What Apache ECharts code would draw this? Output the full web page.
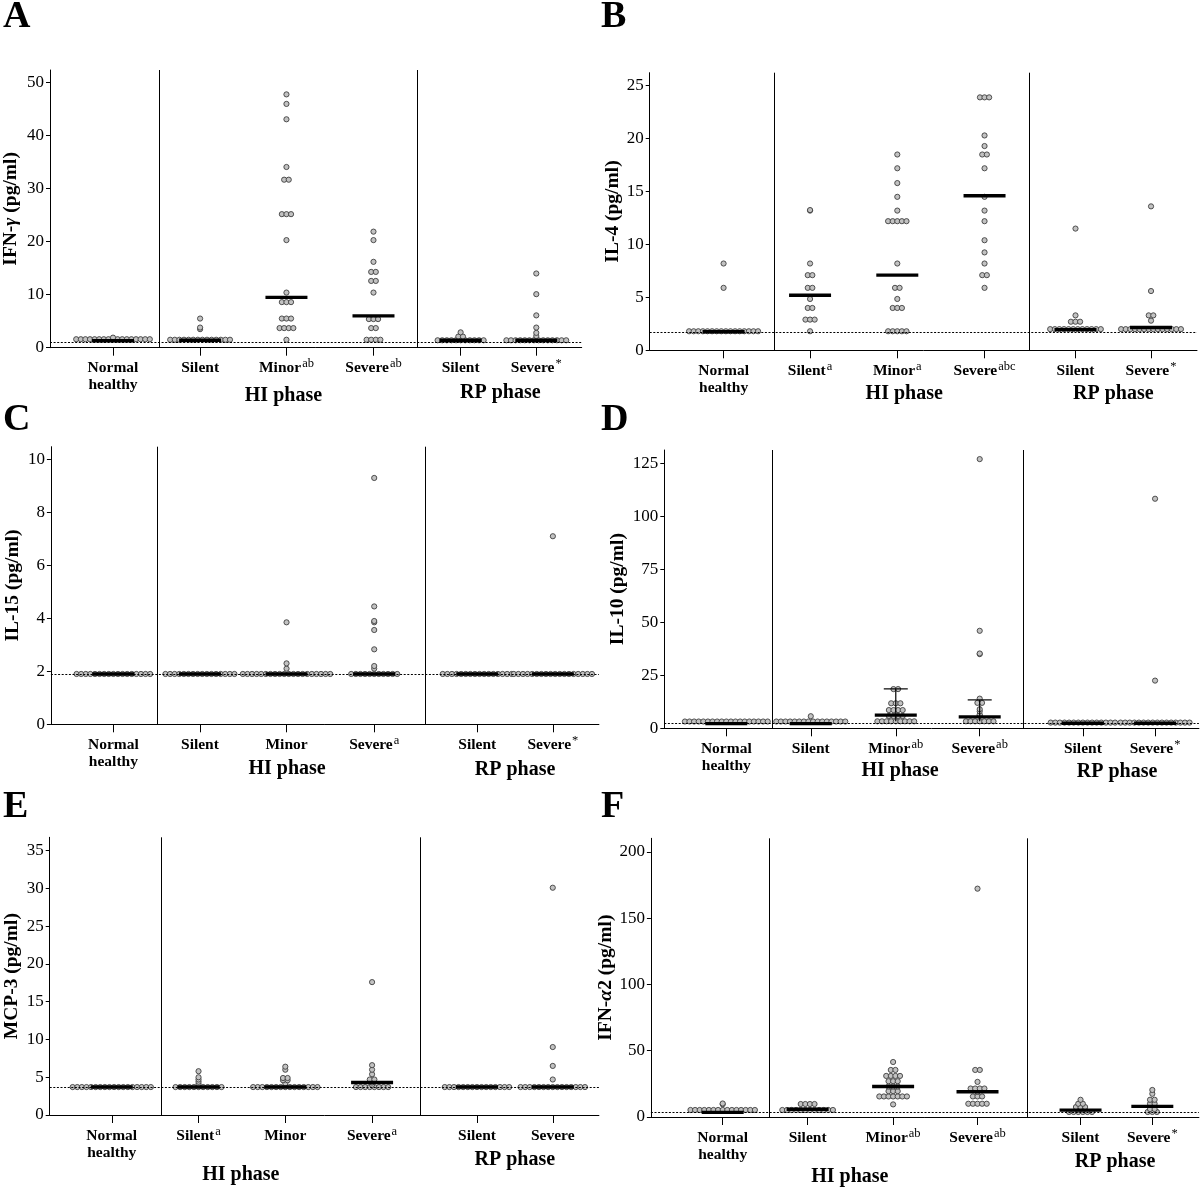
<!DOCTYPE html>
<html>
<head>
<meta charset="utf-8">
<script src="https://cdn.jsdelivr.net/npm/echarts@6/dist/echarts.min.js"></script>
<style>
html,body{margin:0;padding:0;background:#fff;}
#chart{width:1200px;height:1189px;}
</style>
</head>
<body>
<div id="chart"></div>
<script>
// ---------------- DATA ----------------
// Each group: list of [value (pg/ml), number of dots drawn at that value]
// group order: Normal healthy | HI Silent | HI Minor | HI Severe | RP Silent | RP Severe

const ifnGamma = [
  [[1.6, 17], [1.9, 1]],
  [[1.5, 14], [3.5, 1], [3.8, 1], [5.5, 1]],
  [[1.5, 1], [3.7, 4], [5.5, 3], [8.6, 3], [10.4, 1], [20.3, 1], [25.2, 3], [31.7, 2], [34.1, 1], [43.1, 1], [46.0, 1], [47.8, 1]],
  [[1.5, 4], [3.7, 2], [5.4, 3], [10.4, 1], [12.6, 2], [14.3, 2], [16.2, 1], [20.3, 1], [21.9, 1]],
  [[1.4, 11], [2.1, 2], [2.9, 1]],
  [[1.4, 14], [2.2, 1], [2.8, 1], [3.8, 1], [6.1, 1], [10.1, 1], [14.0, 1]]
];
const ifnGammaMedian = [1.3, 1.4, 9.5, 6.0, 1.4, 1.4];

const il4 = [
  [[1.8, 16], [5.9, 1], [8.2, 1]],
  [[1.8, 1], [2.9, 3], [4.0, 2], [4.85, 1], [5.9, 2], [7.1, 2], [8.2, 1], [13.2, 1], [13.25, 1]],
  [[1.8, 5], [4.0, 3], [4.85, 1], [5.9, 2], [8.2, 1], [12.2, 5], [13.2, 1], [14.5, 1], [15.8, 1], [17.2, 1], [18.5, 1]],
  [[5.9, 1], [7.1, 2], [8.2, 1], [9.25, 1], [10.4, 1], [12.2, 1], [13.2, 1], [14.5, 1], [17.2, 1], [18.5, 2], [19.3, 1], [20.3, 1], [23.9, 3]],
  [[2.0, 12], [2.7, 3], [3.3, 1], [11.5, 1]],
  [[2.0, 14], [2.8, 1], [3.3, 2], [5.6, 1], [13.6, 1]]
];
const il4Median = [1.75, 5.2, 7.1, 14.6, 1.95, 2.15];

const il15 = [
  [[1.9, 17]],
  [[1.9, 16]],
  [[1.9, 20], [2.1, 1], [2.3, 1], [3.85, 1]],
  [[1.9, 11], [2.1, 1], [2.2, 1], [2.83, 1], [3.56, 1], [3.85, 1], [3.9, 1], [4.45, 1], [9.3, 1]],
  [[1.9, 16]],
  [[1.9, 18], [7.1, 1]]
];
const il15Median = [1.9, 1.9, 1.9, 1.9, 1.9, 1.9];

const il10 = [
  [[3.2, 19]],
  [[3.2, 16], [5.7, 1]],
  [[3.3, 9], [5.8, 4], [8.6, 4], [11.8, 3], [18.5, 2]],
  [[3.3, 7], [6.0, 1], [6.5, 1], [8.0, 1], [9.0, 1], [12.0, 2], [14.0, 1], [35.0, 1], [35.3, 1], [46.0, 1], [127.0, 1]],
  [[2.7, 15]],
  [[2.7, 16], [22.5, 1], [108.3, 1]]
];
const il10Median = [2.2, 2.2, 6.2, 5.4, 2.4, 2.4];
// spread bars (low, high) drawn for HI Minor and HI Severe
const il10Spread = [null, null, [3.3, 18.6], [3.3, 13.4], null, null];

const mcp3 = [
  [[3.7, 18]],
  [[3.7, 11], [4.1, 1], [4.4, 1], [4.7, 1], [5.0, 1], [5.8, 1]],
  [[3.7, 15], [4.2, 1], [4.6, 2], [4.9, 2], [6.0, 1], [6.4, 1]],
  [[3.7, 8], [4.0, 1], [4.3, 1], [4.7, 2], [5.4, 1], [6.0, 1], [6.6, 1], [17.6, 1]],
  [[3.7, 15]],
  [[3.7, 15], [4.7, 1], [6.5, 1], [9.0, 1], [30.1, 1]]
];
const mcp3Median = [3.7, 3.7, 3.7, 4.3, 3.7, 3.7];

const ifnAlpha2 = [
  [[5.3, 15], [9.6, 1], [10.2, 1]],
  [[5.3, 12], [9.8, 4]],
  [[9.5, 1], [15.5, 7], [19.5, 3], [23.0, 3], [27.0, 3], [31.0, 4], [35.5, 2], [41.5, 1]],
  [[10.0, 5], [15.5, 3], [19.0, 1], [21.5, 4], [26.5, 1], [35.5, 2], [172.3, 1]],
  [[3.8, 6], [5.5, 2], [7.5, 3], [10.0, 2], [13.0, 1]],
  [[3.8, 3], [6.0, 2], [10.0, 2], [13.0, 2], [17.5, 1], [20.4, 1]]
];
const ifnAlpha2Median = [3.5, 5.8, 23.0, 19.0, 5.2, 8.0];

// dotted reference (detection-limit) lines, one per panel A..F
const detectionLimits = [1.05, 1.7, 1.9, 2.3, 3.7, 3.5];

// tick labels
const yTicksA = [0, 10, 20, 30, 40, 50];
const yTicksB = [0, 5, 10, 15, 20, 25];
const yTicksC = [0, 2, 4, 6, 8, 10];
const yTicksD = [0, 25, 50, 75, 100, 125];
const yTicksE = [0, 5, 10, 15, 20, 25, 30, 35];
const yTicksF = [0, 50, 100, 150, 200];

// category labels (^ marks superscript)
const catA = ['Normal\nhealthy', 'Silent', 'Minor^ab', 'Severe^ab', 'Silent', 'Severe^*'];
const catB = ['Normal\nhealthy', 'Silent^a', 'Minor^a', 'Severe^abc', 'Silent', 'Severe^*'];
const catC = ['Normal\nhealthy', 'Silent', 'Minor', 'Severe^a', 'Silent', 'Severe^*'];
const catD = ['Normal\nhealthy', 'Silent', 'Minor^ab', 'Severe^ab', 'Silent', 'Severe^*'];
const catE = ['Normal\nhealthy', 'Silent^a', 'Minor', 'Severe^a', 'Silent', 'Severe'];
const catF = ['Normal\nhealthy', 'Silent', 'Minor^ab', 'Severe^ab', 'Silent', 'Severe^*'];
const phaseLabels = ['HI phase', 'RP phase'];
const panelLetters = ['A', 'B', 'C', 'D', 'E', 'F'];
const yTitles = ['IFN-{g|γ} (pg/ml)', 'IL-4 (pg/ml)', 'IL-15 (pg/ml)', 'IL-10 (pg/ml)', 'MCP-3 (pg/ml)', 'IFN-{g|α}2 (pg/ml)'];

// ---------------- LAYOUT ----------------
const layout = [
  {left: 49,    top: 70,    width: 532.7, height: 277.7, yMax: 52.4,  xPos: [11.85, 28.23, 44.47, 60.84, 77.23, 91.46], seps: [20.48, 69.1], nameGap: 29, hiX: 43.9, hiDy: 48, rpDy: 45, letter: [3, 20]},
  {left: 649.7, top: 72.7,  width: 547.3, height: 277.6, yMax: 26.23, xPos: [13.5, 29.3, 45.24, 61.18, 77.8, 91.6],   seps: [22.7, 69.4],  nameGap: 16, hiX: 46.5, hiDy: 44, rpDy: 44, letter: [601, 20]},
  {left: 50.9,  top: 446.7, width: 548,   height: 277.6, yMax: 10.48, xPos: [11.4, 27.2, 43.0, 59.0, 77.8, 91.6],    seps: [19.4, 68.4],  nameGap: 28, hiX: 43.1, hiDy: 45, rpDy: 46, letter: [3, 423]},
  {left: 664.3, top: 450,   width: 534.6, height: 278.3, yMax: 131.3, xPos: [11.6, 27.4, 43.3, 59.0, 78.3, 91.8],    seps: [20.2, 67.1],  nameGap: 36, hiX: 44.1, hiDy: 43, rpDy: 44, letter: [601, 423]},
  {left: 49.7,  top: 837.3, width: 549.2, height: 277.7, yMax: 36.78, xPos: [11.3, 27.1, 42.9, 58.7, 77.8, 91.6],    seps: [20.4, 67.4],  nameGap: 28, hiX: 34.8, hiDy: 60, rpDy: 45, letter: [3, 810]},
  {left: 650.9, top: 838.3, width: 548,   height: 278.7, yMax: 210.3, xPos: [13.1, 28.6, 44.2, 59.6, 78.4, 91.5],    seps: [21.6, 68.6],  nameGap: 27, hiX: 36.3, hiDy: 60, rpDy: 45, letter: [601, 810]}
];
const rpX = 84.7;
const DOT_STEP = 4.6;

const panels = [
  {data: ifnGamma,  median: ifnGammaMedian,  ticks: yTicksA, cats: catA},
  {data: il4,       median: il4Median,       ticks: yTicksB, cats: catB},
  {data: il15,      median: il15Median,      ticks: yTicksC, cats: catC},
  {data: il10,      median: il10Median,      ticks: yTicksD, cats: catD, spread: il10Spread},
  {data: mcp3,      median: mcp3Median,      ticks: yTicksE, cats: catE},
  {data: ifnAlpha2, median: ifnAlpha2Median, ticks: yTicksF, cats: catF}
];

const FONT = '"Liberation Serif", "Times New Roman", serif';

function catRich(label) {
  return label.split('\n').map(line => {
    const parts = line.split('^');
    return '{n|' + parts[0] + '}' + (parts[1] ? '{s|' + parts[1] + '}' : '');
  }).join('\n');
}

const option = {
  animation: false,
  backgroundColor: '#fff',
  grid: [], xAxis: [], yAxis: [], series: [], graphic: []
};

panels.forEach((p, i) => {
  const L = layout[i];
  option.grid.push({left: L.left, top: L.top, width: L.width, height: L.height});
  option.xAxis.push({
    type: 'value', gridIndex: i, min: 0, max: 100,
    axisLine: {show: true, onZero: false, lineStyle: {color: '#000', width: 1}},
    axisTick: {show: true, customValues: L.xPos, length: 8, lineStyle: {color: '#000', width: 1}},
    axisLabel: {
      customValues: L.xPos, margin: 12, interval: 0,
      formatter: v => {
        let k = 0, best = 1e9;
        L.xPos.forEach((x, j) => { if (Math.abs(x - v) < best) { best = Math.abs(x - v); k = j; } });
        return catRich(p.cats[k]);
      },
      rich: {
        n: {fontFamily: FONT, fontWeight: 'bold', fontSize: 15.5, lineHeight: 17, color: '#000'},
        s: {fontFamily: FONT, fontWeight: 'normal', fontSize: 12.5, lineHeight: 17, color: '#000', padding: [0, 0, 8, 1]}
      }
    },
    splitLine: {show: false}
  });
  option.yAxis.push({
    type: 'value', gridIndex: i, min: 0, max: L.yMax,
    axisLine: {show: true, onZero: false, lineStyle: {color: '#000', width: 1}},
    axisTick: {show: true, customValues: p.ticks, length: 4, lineStyle: {color: '#000', width: 1}},
    axisLabel: {customValues: p.ticks, fontFamily: FONT, fontSize: 17, color: '#000', margin: 6},
    splitLine: {show: false},
    name: yTitles[i], nameLocation: 'middle', nameGap: L.nameGap,
    nameTextStyle: {
      fontFamily: FONT, fontWeight: 'bold', fontSize: 19.5, color: '#000',
      rich: {g: {fontFamily: FONT, fontWeight: 'bold', fontStyle: 'italic', fontSize: 19.5, color: '#000'}}
    }
  });

  // dots, stacked side by side at equal values
  const dots = [];
  p.data.forEach((group, k) => {
    group.forEach(([v, n]) => {
      for (let j = 0; j < n; j++) {
        dots.push({value: [L.xPos[k], v], symbolOffset: [(j - (n - 1) / 2) * DOT_STEP, 0]});
      }
    });
  });
  option.series.push({
    type: 'scatter', xAxisIndex: i, yAxisIndex: i, silent: true, z: 3,
    symbol: 'circle', symbolSize: 5.2,
    itemStyle: {color: '#c2c2c2', borderColor: '#3e3e3e', borderWidth: 0.9, opacity: 1},
    data: dots
  });

  // median bars + reference lines
  option.series.push({
    type: 'scatter', xAxisIndex: i, yAxisIndex: i, silent: true, z: 5,
    symbol: 'rect', symbolSize: [42, 3.4],
    itemStyle: {color: '#000', opacity: 1},
    data: p.median.map((m, k) => [L.xPos[k], m]),
    markLine: {
      silent: true, symbol: 'none', animation: false, label: {show: false},
      emphasis: {disabled: true},
      data: [
        {yAxis: detectionLimits[i], lineStyle: {type: [2, 1.6], color: '#000', width: 1}},
        {xAxis: L.seps[0], lineStyle: {type: 'solid', color: '#000', width: 1}},
        {xAxis: L.seps[1], lineStyle: {type: 'solid', color: '#000', width: 1}}
      ]
    }
  });

  if (p.spread) {
    const bars = [];
    p.spread.forEach((s, k) => { if (s) bars.push([L.xPos[k], s[0], s[1]]); });
    option.series.push({
      type: 'custom', xAxisIndex: i, yAxisIndex: i, silent: true, z: 4,
      encode: {x: 0, y: [1, 2]},
      data: bars,
      renderItem: (params, api) => {
        const lo = api.coord([api.value(0), api.value(1)]);
        const hi = api.coord([api.value(0), api.value(2)]);
        return {type: 'group', children: [
          {type: 'line', shape: {x1: lo[0], y1: lo[1], x2: hi[0], y2: hi[1]}, style: {stroke: '#000', lineWidth: 1.2}},
          {type: 'line', shape: {x1: hi[0] - 12, y1: hi[1], x2: hi[0] + 12, y2: hi[1]}, style: {stroke: '#000', lineWidth: 1.2}}
        ]};
      }
    });
  }

  option.graphic.push({
    type: 'text', left: L.letter[0], top: L.letter[1] - 22, silent: true,
    style: {text: panelLetters[i], font: 'bold 38px ' + FONT, fill: '#000'}
  });
});

const chart = echarts.init(document.getElementById('chart'), null, {renderer: 'canvas'});
chart.setOption(option);

// phase group labels placed through the axis scales
const phaseGraphics = [];
layout.forEach((L, i) => {
  const hi = chart.convertToPixel({gridIndex: i}, [L.hiX, 0]);
  const rp = chart.convertToPixel({gridIndex: i}, [rpX, 0]);
  phaseGraphics.push({
    type: 'text', x: hi[0], y: hi[1] + L.hiDy, silent: true,
    style: {text: phaseLabels[0], font: 'bold 20px ' + FONT, fill: '#000', align: 'center', verticalAlign: 'middle'}
  });
  phaseGraphics.push({
    type: 'text', x: rp[0], y: rp[1] + L.rpDy, silent: true,
    style: {text: phaseLabels[1], font: 'bold 20px ' + FONT, fill: '#000', align: 'center', verticalAlign: 'middle'}
  });
});
chart.setOption({graphic: option.graphic.concat(phaseGraphics)});
</script>
</body>
</html>
